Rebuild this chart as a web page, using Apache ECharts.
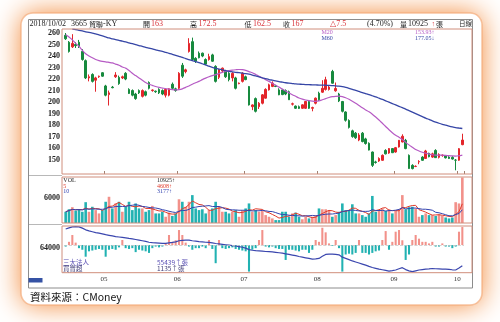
<!DOCTYPE html>
<html>
<head>
<meta charset="utf-8">
<script src="https://cdn.jsdelivr.net/npm/echarts@6/dist/echarts.min.js"></script>
<style>
  html, body { margin: 0; padding: 0; background: #ffffff; }
  #chart { width: 500px; height: 322px; }
</style>
</head>
<body>
<div id="chart"></div>
<script>
// Trading days, April 13 – October 2, 2018
const aprDays = [13, 16, 17, 18, 19, 20, 23, 24, 25, 26, 27, 30];
const mayDays = [2, 3, 4, 7, 8, 9, 10, 11, 14, 15, 16, 17, 18, 21, 22, 23, 24, 25, 28, 29, 30, 31];
const junDays = [1, 4, 5, 6, 7, 8, 11, 12, 13, 14, 15, 19, 20, 21, 22, 25, 26, 27, 28, 29];
const julDays = [2, 3, 4, 5, 6, 9, 10, 11, 12, 13, 16, 17, 18, 19, 20, 23, 24, 25, 26, 27, 30, 31];
const augDays = [1, 2, 3, 6, 7, 8, 9, 10, 13, 14, 15, 16, 17, 20, 21, 22, 23, 24, 27, 28, 29, 30, 31];
const sepDays = [3, 4, 5, 6, 7, 10, 11, 12, 13, 14, 17, 18, 19, 20, 21, 25, 26, 27, 28];
const octDays = [1, 2];

// Daily prices
const opens = [258, 252, 248, 250, 252, 244, 236, 221, 224, 219, 222, 225.5,
  214, 206.5, 213, 222, 221.5, 221, 225, 211, 210, 207, 210, 205, 209, 217, 210, 209.5, 211, 210, 206, 206, 215.5, 211.5,
  212, 232, 226.5, 244, 252.5, 238, 242.5, 242.5, 237, 237, 241, 231, 221.5, 227, 227, 225, 221, 221, 216, 218,
  222, 213.5, 196, 203, 196, 199, 203.4, 210.6, 213.6, 214, 210.6, 210.6, 210, 209, 198.2, 196.5, 196, 194.6, 194.6, 200.5, 194.6, 199,
  207.7, 208.6, 211, 211, 226.6, 209.8, 207, 200.5, 191.4, 184, 175, 173, 167, 173, 168, 164.2, 156.6, 148, 148.8, 149.4, 158, 155.7, 159.6,
  156.6, 161, 165.3, 166.8, 153.7, 145, 144, 148, 152.2, 151, 155.5, 152.2, 158, 152, 153.5, 153.5, 152.2, 152, 149.5,
  149.5, 163];
const highs = [260, 253, 259, 252, 254, 246, 237, 224, 225, 222, 223, 226,
  215, 210, 214, 226, 223, 223, 226, 212, 211, 208, 211, 211, 210, 218, 211, 210, 212, 211, 212, 212, 217, 212.5,
  226, 234, 229, 255.5, 256, 239, 244, 243, 238, 242, 242, 232, 229, 230, 228, 226, 226, 222, 217, 226,
  223, 214, 198, 204, 200, 207, 212, 216, 218, 215, 212, 211, 211, 210, 199.5, 197, 197, 198, 201, 201, 196, 204,
  209, 219, 222, 214, 228, 217, 208, 201, 192, 185, 176, 174, 173, 174, 169, 165, 157, 149, 152, 154.5, 159, 160, 160,
  161, 167, 172, 168, 154.5, 146, 145, 149.5, 153, 158.5, 156, 156, 159, 155.5, 154.5, 154, 153, 153, 150.5,
  160, 172.5];
const lows = [254, 243, 247, 247, 247, 236, 220, 218, 217, 209, 221, 222,
  205, 197, 212, 221, 215, 220, 219, 207, 205, 202, 207, 204, 205, 211, 209, 208, 207, 206, 204, 205, 211, 209,
  211, 221, 225, 243, 236, 234, 238, 239, 232, 236, 235, 217, 220, 226, 221, 218, 218, 211, 215.5, 217,
  219, 197, 193, 191, 194, 198, 203, 210, 213, 213, 206, 206, 206, 202, 197, 194, 194, 194, 194, 194, 192, 198,
  201, 208, 210, 210, 216, 209, 200, 191, 183, 177, 169, 168, 166, 165, 163, 158, 143.6, 146.5, 148, 149, 154.5, 155, 155.7,
  156, 160.5, 165, 159, 142, 141.5, 143.5, 146, 149, 150.5, 152, 151.5, 151.5, 151, 152.5, 151, 150.5, 150, 140.7,
  149, 162.5];
const closes = [255, 244, 251, 249, 248, 237, 221, 222, 218, 221, 222.5, 222.5,
  206, 208, 212.5, 223.5, 216, 222, 220, 207.5, 206, 203, 208, 210, 206, 212, 210.5, 209, 208, 207, 211, 211.5, 212, 210,
  225, 222.5, 228, 251, 237, 235.5, 238.5, 240, 233, 239.5, 235.5, 218, 228, 229.5, 222, 219.5, 225, 212, 216.5, 225,
  219.5, 197.5, 197.5, 192, 199, 206.3, 211, 215, 216.4, 213.6, 206.3, 206.5, 207, 202, 198.5, 194.6, 194.5, 197.6, 200.5, 194.6, 195.2, 203.4,
  202, 212, 219.4, 213, 216.4, 211.8, 201, 192, 184.2, 178, 170, 169, 171.4, 165.7, 164, 158.3, 145, 147.5, 151, 153.7, 155, 159.6, 156,
  160.4, 166.8, 170.3, 159.6, 142.2, 142.2, 144.2, 148.3, 149.4, 157.5, 152.5, 155, 151.7, 154.5, 153.8, 151.5, 151, 150.5, 149.5,
  159.5, 167];

// Price moving averages
const ma20 = [258.5, 256.5, 254, 251, 248.5, 245, 242, 240, 238.5, 237, 236, 235.3,
  235, 234.5, 234, 233, 232, 230.5, 229.5, 227.5, 225, 223, 221, 219, 217, 215.5, 214.5, 213.5, 212.7, 212.2, 211.8, 211.2, 210.8, 210.6,
  210.8, 211.5, 212.8, 214, 215.5, 216.8, 218, 219.5, 220.8, 222, 223, 223.8, 224.8, 225.8, 226.6, 227.3, 227.8, 228.1, 228.3, 228.2,
  227.6, 226.5, 225.5, 224, 222.5, 221, 219.5, 218, 216.3, 214.6, 213, 211.3, 209.6, 208, 206.4, 205, 203.6, 202.6, 201.8, 201.2, 200.8, 200.6,
  201, 202, 203, 204, 204.7, 205, 205.1, 204.8, 203.8, 202.4, 200.8, 199, 197, 195, 193.2, 191.6, 189.5, 187, 184.4, 181.6, 178.8, 176, 173.4,
  171.2, 169.5, 167.5, 165, 162.8, 160.8, 158.8, 157.5, 156.4, 155.5, 154.8, 154.2, 153.9, 153.8, 153.9, 153.7, 153.4, 153.2, 153.1,
  153.4, 153.93];
const ma60 = ['-', '-', 263.3, 262.9, 262.4, 261.8, 261.1, 260.5, 260, 259.2, 258.3, 257.5,
  256.6, 255.7, 255, 254.3, 253.6, 253, 252.3, 251.5, 250.7, 249.9, 249.1, 248.4, 247.6, 246.9, 246.2, 245.4, 244.7, 244, 243.2, 242.4, 241.5, 240.6,
  239.7, 238.8, 237.8, 236.9, 236, 235.2, 234.3, 233.3, 232.3, 231.2, 230.2, 229.4, 228.7, 228, 227.3, 226.7, 226.3, 225.9, 225.5, 225.1,
  224.7, 224.2, 223.5, 222.7, 221.8, 221, 220.3, 219.6, 219, 218.4, 217.8, 217.3, 216.8, 216.4, 216.1, 215.8, 215.6, 215.4, 215.2, 215.1, 215, 214.9,
  214.8, 214.7, 214.6, 214.5, 214.3, 214.1, 213.8, 213.4, 212.8, 212, 211.1, 210.1, 209.2, 208.3, 207.4, 206.5, 205.5, 204.5, 203.4, 202.3, 201.1, 199.9, 198.7,
  197.5, 196.3, 195.1, 193.9, 192.6, 191.3, 190, 188.7, 187.4, 186.1, 184.9, 183.7, 182.6, 181.6, 180.7, 179.9, 179.1, 178.4, 177.8,
  177.4, 177.05];

// Daily volume (張)
const volumes = [2700, 3300, 3800, 3000, 3300, 2700, 5000, 2700, 3900, 3100, 2300, 3100,
  5100, 6300, 3500, 4700, 5100, 2700, 3900, 5100, 3100, 4700, 3500, 3500, 2700, 3100, 4100, 2300, 2300, 2700, 1500, 2500, 1700, 2300,
  5700, 5100, 3900, 5100, 6700, 3500, 3100, 3300, 2300, 3100, 3500, 5100, 3900, 2700, 2700, 2300, 2700, 3100, 1500, 3100,
  3500, 4700, 2700, 3100, 2700, 3100, 1900, 1500, 1100, 700, 700, 2700, 2700, 1500, 2300, 2500, 1500, 900, 1500, 1100, 1500, 1900,
  3500, 3300, 3300, 3100, 1500, 1900, 2700, 4700, 3100, 3000, 4500, 2300, 2300, 1900, 1500, 2300, 6500, 2700, 2900, 3500, 2900, 3300, 2300,
  2900, 3300, 6700, 3300, 3800, 3900, 3500, 1500, 1900, 2300, 1900, 1900, 1700, 2100, 1700, 1330, 1100, 1315, 5000,
  4700, 10925];

// Institutional investors: daily net buy/sell and total holdings (張)
const netBuy = [-100, 200, 630, 150, -200, -300, -740, -400, -350, -300, -250, -300,
  -740, -300, -250, -300, -150, 315, -200, -250, -200, -450, -300, -350, -400, -500, -200, -100, -150, -100, 100, 630, 200, 300,
  945, 630, 150, -100, -300, -200, -200, -100, -200, 315, -250, -1150, 315, -200, -250, -200, -150, -250, -300, -350,
  -400, -1680, -300, -200, 315, 945, -100, -150, -100, -200, -250, -250, -945, -300, -300, -350, -400, -300, -300, -500, -300, 315,
  200, 1090, 800, 100, -50, 315, -200, -1680, -600, -550, -600, -500, 315, -500, -500, -600, -500, -400, -350, 315, 880, -300, 200,
  840, 945, 300, -945, -600, 315, 630, 400, 200, 200, 100, 200, -100, -100, 100, -100, -100, -200, -100,
  840, 1135];
const instHolding = [72900, 73400, 73900, 74000, 73900, 73300, 72500, 72000, 71600, 71200, 70900, 70600,
  70200, 69900, 69600, 69300, 69100, 68900, 68700, 68400, 68200, 67900, 67600, 67300, 67000, 66600, 66400, 66300, 66200, 66100, 66100, 66300, 66500, 66800,
  67300, 67500, 67600, 67600, 67300, 67100, 66900, 66800, 66600, 66500, 66300, 66000, 65800, 65600, 65400, 65200, 65000, 64800, 64500, 64200,
  63800, 63100, 62800, 62600, 62500, 62400, 62200, 62100, 62000, 61800, 61600, 61400, 61100, 60800, 60500, 60200, 59800, 59500, 59200, 58900, 58600, 58700,
  58900, 59900, 60800, 60900, 60900, 60800, 60600, 59500, 58900, 58300, 57700, 57200, 56700, 56200, 55700, 55100, 54600, 54200, 53800, 53500, 53200, 52900, 53100,
  53400, 54000, 54500, 53600, 53000, 52600, 53000, 53400, 53600, 53800, 53900, 54100, 54000, 53900, 53800, 53800, 53700, 53500, 53400,
  54300, 55439];

// Axis tick labels
const priceTicks = [150, 160, 170, 180, 190, 200, 210, 220, 230, 240, 250, 260];
const volumeTicks = [6000];
const holdingTicks = [64000];

const days = [];
[['04', aprDays], ['05', mayDays], ['06', junDays], ['07', julDays], ['08', augDays], ['09', sepDays], ['10', octDays]]
  .forEach(([m, list]) => list.forEach(d => days.push('2018/' + m + '/' + String(d).padStart(2, '0'))));
const N = days.length;
const last = N - 1;

const UP = '#e3262b', DOWN = '#178a3e';
const VOL_UP = '#f2918a', VOL_DOWN = '#22b2b2';
const FRAME = '#d08e7c';
const SERIF = '"Liberation Serif", "DejaVu Serif", "Noto Sans CJK TC", serif';
const CJK = '"Noto Sans CJK TC", "Liberation Serif", serif';

const isUp = i => closes[i] >= opens[i];
const monthStart = i => i > 0 && days[i].slice(5, 7) !== days[i - 1].slice(5, 7);
function movingAvg(arr, n) {
  return arr.map((_, i) => {
    const part = arr.slice(Math.max(0, i - n + 1), i + 1);
    return Math.round(part.reduce((a, b) => a + b, 0) / part.length);
  });
}
const vol5 = movingAvg(volumes, 5);
const vol10 = movingAvg(volumes, 10);
const arrow = (a, b) => (a >= b ? '↑' : '↓');

const candleData = days.map((_, i) => [opens[i], closes[i], lows[i], highs[i]]);
const volumeData = volumes.map((v, i) => ({ value: v, itemStyle: { color: isUp(i) ? VOL_UP : VOL_DOWN } }));
const netBuyData = netBuy.map(v => ({ value: v, itemStyle: { color: v >= 0 ? VOL_UP : VOL_DOWN } }));

const change = +(closes[last] - closes[last - 1]).toFixed(2);
const pct = (change / closes[last - 1] * 100).toFixed(2);

function txt(x, y, text, fill, size, opts) {
  opts = opts || {};
  return {
    type: 'text', x: x, y: y, z: 20, silent: true,
    style: {
      text: text, fill: fill, font: (opts.weight || 'normal') + ' ' + size + 'px ' + (opts.family || SERIF),
      align: opts.align || 'left', verticalAlign: 'middle',
      textAlign: opts.align || 'left', textVerticalAlign: 'middle'
    }
  };
}
function frame(x, y, w, h, color, extra) {
  return Object.assign({
    type: 'rect', z: 15, silent: true,
    shape: { x: x, y: y, width: w, height: h },
    style: { fill: 'none', stroke: color, lineWidth: 1 }
  }, extra || {});
}

const RED = '#d8333a', BLACK = '#1e1e1e', MA20C = '#b65bc4', MA60C = '#3646a6', LINEBLUE = '#3a46ae';

const graphics = [
  // card with warm glow
  { type: 'rect', z: -11, silent: true, shape: { x: 21, y: 13, width: 461, height: 292, r: 12 },
    style: { fill: '#ffffff', shadowBlur: 28, shadowColor: 'rgba(242,134,52,1)' } },
  { type: 'rect', z: -10, silent: true, shape: { x: 21, y: 13, width: 461, height: 292, r: 12 },
    style: { fill: '#ffffff', stroke: 'rgba(244,170,120,0.7)', lineWidth: 1.5 } },
  // outer frame and panel frames
  frame(28.5, 19.5, 444, 268.5, '#8c8c8c'),
  frame(62, 29, 410, 145, FRAME),
  frame(62, 177, 410, 46, FRAME),
  frame(62, 226, 410, 46.7, FRAME),
  { type: 'line', z: 14, silent: true, shape: { x1: 28.5, y1: 175.5, x2: 62, y2: 175.5 }, style: { stroke: '#b8b8b8', lineWidth: 1 } },
  { type: 'line', z: 14, silent: true, shape: { x1: 28.5, y1: 224.5, x2: 62, y2: 224.5 }, style: { stroke: '#b8b8b8', lineWidth: 1 } },
  { type: 'rect', z: 16, silent: true, shape: { x: 28.5, y: 278, width: 14, height: 4.5 }, style: { fill: '#3552a4' } },

  // header row
  txt(29.5, 24, days[last], BLACK, 8),
  txt(71, 24, '3665', BLACK, 8),
  txt(89, 24, '貿聯', BLACK, 7, { family: CJK }),
  txt(103, 24, '-KY', BLACK, 8),
  txt(143, 24, '開', BLACK, 7, { family: CJK }),
  txt(151, 24, String(opens[last]), RED, 8),
  txt(190, 24, '高', BLACK, 7, { family: CJK }),
  txt(198.5, 24, String(highs[last]), RED, 8),
  txt(244.5, 24, '低', BLACK, 7, { family: CJK }),
  txt(253, 24, String(lows[last]), RED, 8),
  txt(283, 24, '收', BLACK, 7, { family: CJK }),
  txt(291.5, 24, String(closes[last]), RED, 8),
  txt(330, 24, '△' + change, RED, 8),
  txt(367, 24, '(' + pct + '%)', BLACK, 8),
  txt(400, 24, '量', BLACK, 7, { family: CJK }),
  txt(408, 24, String(volumes[last]), BLACK, 8),
  txt(431.5, 24, arrow(volumes[last], volumes[last - 1]), RED, 7),
  txt(436, 24, '張', BLACK, 7, { family: CJK }),
  txt(459, 24, '日線', BLACK, 6.5, { family: CJK }),

  // moving average legend
  txt(321.5, 32, 'M20', MA20C, 6),
  txt(321.5, 38.3, 'M60', MA60C, 6),
  txt(415, 32, ma20[last].toFixed(2) + arrow(ma20[last], ma20[last - 1]), MA20C, 6),
  txt(415, 38.3, ma60[last].toFixed(2) + arrow(ma60[last], ma60[last - 1]), MA60C, 6),

  // volume legend
  txt(63.3, 180.7, 'VOL', BLACK, 6),
  txt(63.3, 186, '5', '#e03a2a', 6),
  txt(63.3, 191.7, '10', '#3344b0', 6),
  txt(157, 180.7, volumes[last] + arrow(volumes[last], volumes[last - 1]), BLACK, 6),
  txt(157, 186, vol5[last] + arrow(vol5[last], vol5[last - 1]), '#e03a2a', 6),
  txt(157, 191.7, vol10[last] + arrow(vol10[last], vol10[last - 1]), '#3344b0', 6),

  // institutional legend
  txt(63, 262.7, '三大法人', '#5a50b4', 6.5, { family: CJK }),
  txt(63, 268.3, '買賣超', '#44407a', 6.5, { family: CJK }),
  txt(157, 262.7, instHolding[last] + arrow(instHolding[last], instHolding[last - 1]) + '張', '#5a50b4', 6.5, { family: CJK }),
  txt(157, 268.3, netBuy[last] + arrow(netBuy[last], netBuy[last - 1]) + '張', '#44407a', 6.5, { family: CJK }),

  // source line
  txt(30, 297.5, '資料來源：CMoney', '#141414', 10.5, { family: '"Noto Sans CJK TC", "Noto Sans", sans-serif' })
];

const axisLabelStyle = { fontSize: 8, fontWeight: 'bold', fontFamily: SERIF, color: '#222', margin: 4, formatter: (v) => String(v) };
const hidden = { show: false };

function catAxis(gridIndex, extra) {
  return Object.assign({
    type: 'category', gridIndex: gridIndex, data: days, boundaryGap: true,
    axisLine: hidden, axisTick: hidden, axisLabel: hidden, splitLine: hidden
  }, extra || {});
}

const option = {
  backgroundColor: '#ffffff',
  animation: false,
  graphic: { elements: graphics },
  grid: [
    { left: 64, width: 400, top: 29, height: 145 },
    { left: 64, width: 400, top: 177, height: 46 },
    { left: 64, width: 400, top: 226, height: 46.7 }
  ],
  xAxis: [
    catAxis(0, { axisTick: { show: true, inside: true, length: 3, interval: (i) => monthStart(i), lineStyle: { color: '#a08070' } } }),
    catAxis(1),
    catAxis(2, {
      axisLabel: {
        show: true, interval: (i) => monthStart(i), formatter: (v) => v.slice(5, 7),
        fontSize: 7, fontFamily: SERIF, color: '#333', margin: 3, padding: [0, 3.3, 0, 0]
      }
    })
  ],
  yAxis: [
    { type: 'value', gridIndex: 0, min: 137.5, max: 263.5, axisLine: hidden, axisTick: hidden, splitLine: hidden,
      axisLabel: Object.assign({ customValues: priceTicks }, axisLabelStyle) },
    { type: 'value', gridIndex: 1, min: 0, max: 11050, axisLine: hidden, axisTick: hidden, splitLine: hidden,
      axisLabel: Object.assign({ customValues: volumeTicks }, axisLabelStyle) },
    { type: 'value', gridIndex: 2, min: -1750, max: 1200, position: 'left', axisLine: hidden, axisTick: hidden,
      splitLine: hidden, axisLabel: hidden },
    { type: 'value', gridIndex: 2, min: 52110, max: 74320, position: 'left', axisLine: hidden, axisTick: hidden,
      splitLine: hidden, axisLabel: Object.assign({ customValues: holdingTicks }, axisLabelStyle) }
  ],
  series: [
    { type: 'candlestick', xAxisIndex: 0, yAxisIndex: 0, data: candleData, barWidth: '68%',
      itemStyle: { color: UP, color0: DOWN, borderColor: UP, borderColor0: DOWN, borderWidth: 1 } },
    { type: 'line', xAxisIndex: 0, yAxisIndex: 0, data: ma20, symbol: 'none', smooth: 0.3,
      lineStyle: { color: MA20C, width: 1.2 }, z: 4 },
    { type: 'line', xAxisIndex: 0, yAxisIndex: 0, data: ma60, symbol: 'none', smooth: 0.3,
      lineStyle: { color: MA60C, width: 1.3 }, z: 4 },
    { type: 'bar', xAxisIndex: 1, yAxisIndex: 1, data: volumeData, barWidth: '78%' },
    { type: 'line', xAxisIndex: 1, yAxisIndex: 1, data: vol5, symbol: 'none', lineStyle: { color: '#e03a2a', width: 1 }, z: 4 },
    { type: 'line', xAxisIndex: 1, yAxisIndex: 1, data: vol10, symbol: 'none', lineStyle: { color: '#3344b0', width: 1 }, z: 4 },
    { type: 'bar', xAxisIndex: 2, yAxisIndex: 2, data: netBuyData, barWidth: '62%',
      markLine: { silent: true, symbol: 'none', label: hidden, lineStyle: { color: '#c8c8c8', type: 'dashed', width: 0.8 },
        data: [{ yAxis: 0 }] } },
    { type: 'line', xAxisIndex: 2, yAxisIndex: 3, data: instHolding, symbol: 'none',
      lineStyle: { color: LINEBLUE, width: 1.2 }, z: 4 }
  ]
};

const chart = echarts.init(document.getElementById('chart'), null, { renderer: 'canvas' });
chart.setOption(option);
</script>
</body>
</html>
